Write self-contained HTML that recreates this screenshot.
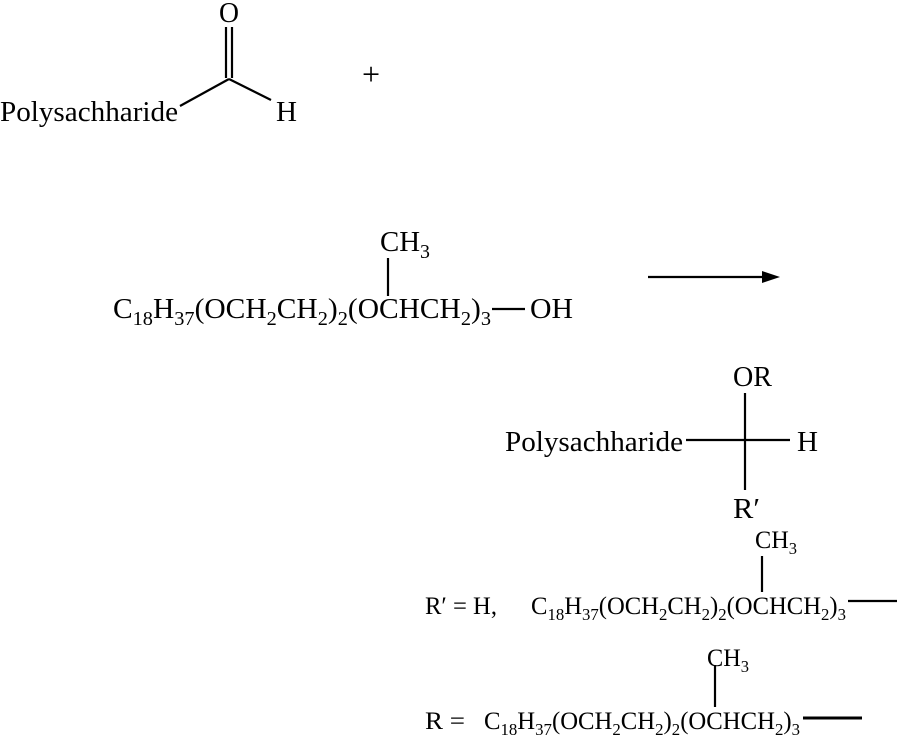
<!DOCTYPE html>
<html><head><style>body{margin:0;background:#fff}svg{display:block}text{font-family:"Liberation Serif",serif;fill:#000}
.b text{font-size:29px}.b tspan.s{font-size:20px}
.m text{font-size:25px}.m tspan.s{font-size:17px}</style></head><body>
<svg width="899" height="737" viewBox="0 0 899 737" xmlns="http://www.w3.org/2000/svg">
<g class="b">
<text x="0" y="121" textLength="178" lengthAdjust="spacingAndGlyphs">Polysachharide</text>
<text x="219" y="22" textLength="20" lengthAdjust="spacingAndGlyphs">O</text>
<text x="276" y="121" textLength="21" lengthAdjust="spacingAndGlyphs">H</text>
<text x="362" y="85" style="font-size:32px">+</text>
</g>
<g stroke="#000" stroke-width="2.2" fill="none">
<line x1="226" y1="27" x2="226" y2="78"/><line x1="232" y1="27" x2="232" y2="78"/>
<line x1="180" y1="106" x2="229" y2="79"/><line x1="229" y1="79" x2="271" y2="100"/>
<line x1="388" y1="258" x2="388" y2="296"/><line x1="492" y1="309" x2="525" y2="309"/>
<line x1="648" y1="277" x2="770" y2="277"/>
<line x1="745" y1="393" x2="745" y2="490"/><line x1="686" y1="440" x2="790" y2="440"/>
<line x1="762" y1="556" x2="762" y2="592"/><line x1="848" y1="601" x2="897" y2="601"/>
<line x1="715" y1="665" x2="715" y2="707"/><line x1="803" y1="718" x2="862" y2="718" stroke-width="3"/>
</g>
<polygon points="780,277 762,271 762,283" fill="#000"/>
<g class="b">
<text x="380" y="251" textLength="50" lengthAdjust="spacingAndGlyphs">CH<tspan class="s" dy="7">3</tspan></text>
<text x="113" y="318" textLength="378" lengthAdjust="spacingAndGlyphs">C<tspan class="s" dy="7">18</tspan><tspan dy="-7">H</tspan><tspan class="s" dy="7">37</tspan><tspan dy="-7">(OCH</tspan><tspan class="s" dy="7">2</tspan><tspan dy="-7">CH</tspan><tspan class="s" dy="7">2</tspan><tspan dy="-7">)</tspan><tspan class="s" dy="7">2</tspan><tspan dy="-7">(OCHCH</tspan><tspan class="s" dy="7">2</tspan><tspan dy="-7">)</tspan><tspan class="s" dy="7">3</tspan></text>
<text x="530" y="318" textLength="43" lengthAdjust="spacingAndGlyphs">OH</text>
<text x="733" y="386" textLength="39" lengthAdjust="spacingAndGlyphs">OR</text>
<text x="505" y="451" textLength="178" lengthAdjust="spacingAndGlyphs">Polysachharide</text>
<text x="797" y="451" textLength="21" lengthAdjust="spacingAndGlyphs">H</text>
<text x="733" y="518" textLength="27" lengthAdjust="spacingAndGlyphs">R′</text>
</g>
<g class="m">
<text x="755" y="548" textLength="42" lengthAdjust="spacingAndGlyphs">CH<tspan class="s" dy="6">3</tspan></text>
<text x="425" y="614" textLength="72" lengthAdjust="spacingAndGlyphs">R′ = H,</text>
<text x="531" y="614" textLength="315" lengthAdjust="spacingAndGlyphs">C<tspan class="s" dy="6">18</tspan><tspan dy="-6">H</tspan><tspan class="s" dy="6">37</tspan><tspan dy="-6">(OCH</tspan><tspan class="s" dy="6">2</tspan><tspan dy="-6">CH</tspan><tspan class="s" dy="6">2</tspan><tspan dy="-6">)</tspan><tspan class="s" dy="6">2</tspan><tspan dy="-6">(OCHCH</tspan><tspan class="s" dy="6">2</tspan><tspan dy="-6">)</tspan><tspan class="s" dy="6">3</tspan></text>
<text x="707" y="666" textLength="42" lengthAdjust="spacingAndGlyphs">CH<tspan class="s" dy="6">3</tspan></text>
<text x="425" y="729" textLength="40" lengthAdjust="spacingAndGlyphs">R =</text>
<text x="484" y="729" textLength="316" lengthAdjust="spacingAndGlyphs">C<tspan class="s" dy="6">18</tspan><tspan dy="-6">H</tspan><tspan class="s" dy="6">37</tspan><tspan dy="-6">(OCH</tspan><tspan class="s" dy="6">2</tspan><tspan dy="-6">CH</tspan><tspan class="s" dy="6">2</tspan><tspan dy="-6">)</tspan><tspan class="s" dy="6">2</tspan><tspan dy="-6">(OCHCH</tspan><tspan class="s" dy="6">2</tspan><tspan dy="-6">)</tspan><tspan class="s" dy="6">3</tspan></text>
</g>
</svg>
</body></html>
